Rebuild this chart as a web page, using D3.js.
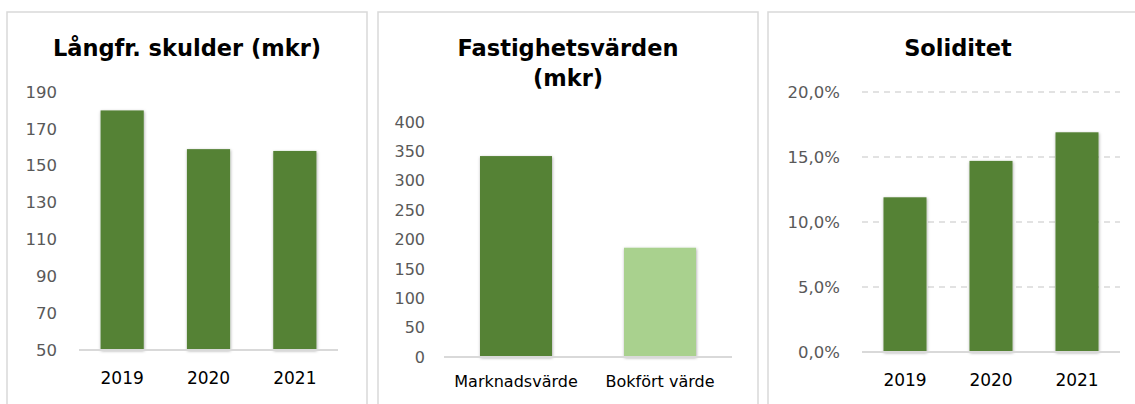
<!DOCTYPE html>
<html>
<head>
<meta charset="utf-8">
<script src="https://cdn.jsdelivr.net/npm/d3@7"></script>
<style>
    body { margin: 0; background: #fff; }
    svg { display: block; font-family: "DejaVu Sans", sans-serif; }
    .domain { display: none; }
    .tick line { display: none; }
</style>
</head>
<body>
<svg id="chart" width="1135" height="404"></svg>
<script>
// data
let debtYears = ['2019', '2020', '2021'];
let debtValues = [180, 159, 158];
let debtTicks = [50, 70, 90, 110, 130, 150, 170, 190];

let propertyCats = ['Marknadsvärde', 'Bokfört värde'];
let propertyValues = [342, 186];
let propertyTicks = [0, 50, 100, 150, 200, 250, 300, 350, 400];

let solidYears = ['2019', '2020', '2021'];
let solidValues = [0.119, 0.147, 0.169];
let solidTicks = [0, 0.05, 0.10, 0.15, 0.20];

const darkGreen = '#548235';
const lightGreen = '#a9d18e';

let svg = d3.select('#chart');

// soft shadow under the bars
let defs = svg.append('defs');
defs.append('filter')
    .attr('id', 'barShadow')
    .attr('x', '-20%').attr('y', '-10%')
    .attr('width', '140%').attr('height', '120%')
    .append('feDropShadow')
    .attr('dx', 0.5).attr('dy', 1)
    .attr('stdDeviation', 1.4)
    .attr('flood-color', '#000')
    .attr('flood-opacity', 0.35);

function drawPanel(p) {
    let g = svg.append('g');

    // panel frame (bottom runs off the picture)
    g.append('rect')
        .attr('x', p.box[0]).attr('y', 12)
        .attr('width', p.box[1] - p.box[0]).attr('height', 420)
        .attr('fill', '#fff')
        .attr('stroke', '#d9d9d9')
        .attr('stroke-width', 1.5);

    let cx = (p.box[0] + p.box[1]) / 2;
    p.title.forEach(function(line, i) {
        g.append('text')
            .attr('x', cx).attr('y', 56 + i * 30)
            .attr('text-anchor', 'middle')
            .attr('font-size', 22.5)
            .attr('font-weight', 'bold')
            .attr('fill', '#000')
            .text(line);
    });

    let x = d3.scaleBand()
        .domain(p.cats)
        .range([p.left, p.right])
        .paddingInner(0.5)
        .paddingOuter(0.25);

    let y = d3.scaleLinear()
        .domain([p.ticks[0], p.ticks[p.ticks.length - 1]])
        .range([p.bottom, p.top]);

    // dashed gridlines
    if (p.grid) {
        g.selectAll('line.grid')
            .data(p.ticks.slice(1))
            .enter()
            .append('line')
            .attr('class', 'grid')
            .attr('x1', p.left).attr('x2', p.right)
            .attr('y1', d => y(d)).attr('y2', d => y(d))
            .attr('stroke', '#d9d9d9')
            .attr('stroke-width', 1.3)
            .attr('stroke-dasharray', '6,5');
    }

    // y axis labels
    let yAxis = g.append('g')
        .attr('transform', 'translate(' + p.labelX + ',0)')
        .call(d3.axisLeft(y).tickValues(p.ticks).tickSize(0).tickPadding(0).tickFormat(p.fmt));
    yAxis.selectAll('text')
        .attr('font-size', p.yFont)
        .attr('font-family', '"DejaVu Sans", sans-serif')
        .attr('fill', '#595959');

    // bars
    g.selectAll('rect.bar')
        .data(p.values)
        .enter()
        .append('rect')
        .attr('class', 'bar')
        .attr('x', (d, i) => x(p.cats[i]))
        .attr('width', x.bandwidth())
        .attr('y', d => y(d))
        .attr('height', d => p.bottom - y(d))
        .attr('fill', (d, i) => p.colors[i % p.colors.length])
        .attr('filter', 'url(#barShadow)');

    // baseline
    g.append('line')
        .attr('x1', p.left).attr('x2', p.right)
        .attr('y1', p.bottom).attr('y2', p.bottom)
        .attr('stroke', '#d9d9d9')
        .attr('stroke-width', 2);

    // x axis labels
    let xAxis = g.append('g')
        .attr('transform', 'translate(0,' + p.bottom + ')')
        .call(d3.axisBottom(x).tickSize(0).tickPadding(p.xPad));
    xAxis.selectAll('text')
        .attr('font-size', p.xFont)
        .attr('font-family', '"DejaVu Sans", sans-serif')
        .attr('fill', '#000');
}

drawPanel({
    box: [7, 367],
    title: ['Långfr. skulder (mkr)'],
    cats: debtYears, values: debtValues, ticks: debtTicks,
    colors: [darkGreen],
    left: 79, right: 338, top: 92, bottom: 350,
    labelX: 57, yFont: 16.5, xFont: 17, xPad: 22,
    fmt: d3.format('d'), grid: false
});

drawPanel({
    box: [378, 758],
    title: ['Fastighetsvärden', '(mkr)'],
    cats: propertyCats, values: propertyValues, ticks: propertyTicks,
    colors: [darkGreen, lightGreen],
    left: 444, right: 732, top: 122, bottom: 357,
    labelX: 425, yFont: 16, xFont: 16, xPad: 19,
    fmt: d3.format('d'), grid: false
});

drawPanel({
    box: [768, 1148],
    title: ['Soliditet'],
    cats: solidYears, values: solidValues, ticks: solidTicks,
    colors: [darkGreen],
    left: 862, right: 1120, top: 92, bottom: 352,
    labelX: 840, yFont: 16.5, xFont: 17, xPad: 22,
    fmt: d => d3.format('.1f')(d * 100).replace('.', ',') + '%', grid: true
});
</script>
</body>
</html>
